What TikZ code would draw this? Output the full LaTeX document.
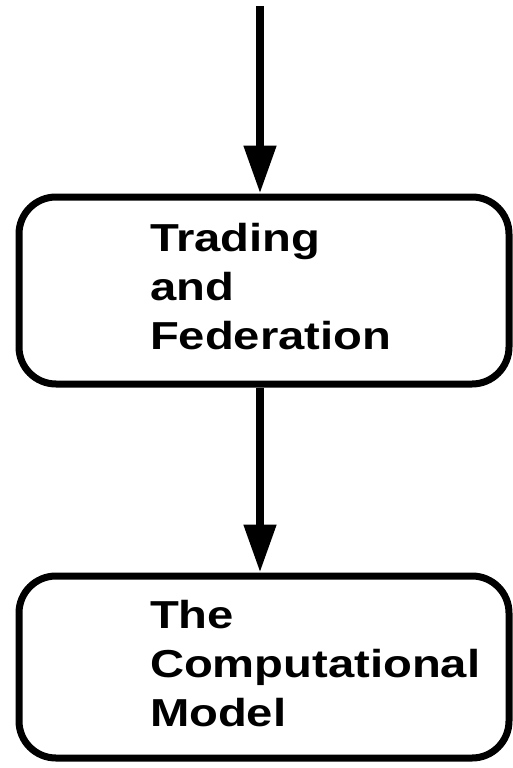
\documentclass[tikz,border=0pt]{standalone}
\usepackage{fontspec}
\newfontfamily\boxfont{Liberation Sans}[FakeStretch=1.21]
\usetikzlibrary{arrows.meta}

\tikzset{
	stage/.style={draw, line width=7pt, rounded corners=37pt,
		minimum width=490pt, inner xsep=0pt, text width=228pt, align=left,
		font=\boxfont\bfseries\fontsize{39}{49}\selectfont},
	flow/.style={line width=8pt, -{Triangle[width=31pt,length=48pt]}}
}

\begin{document}
\begin{tikzpicture}[x=1pt,y=-1pt]

\useasboundingbox (0,0) rectangle (513,768);

\node [stage, minimum height=187pt] (trading) at (264,290.5)
	{Trading\\and\\Federation\vphantom{g}};
\node [stage, minimum height=182pt] (model) at (264,667)
	{The\\\makebox[228pt][l]{Computational}\\Model\vphantom{g}};

\coordinate (in) at (260,6);

\draw [flow] (in) -- (in |- trading.north);
\draw [flow] (in |- trading.south) -- (in |- model.north);

\end{tikzpicture}
\end{document}
